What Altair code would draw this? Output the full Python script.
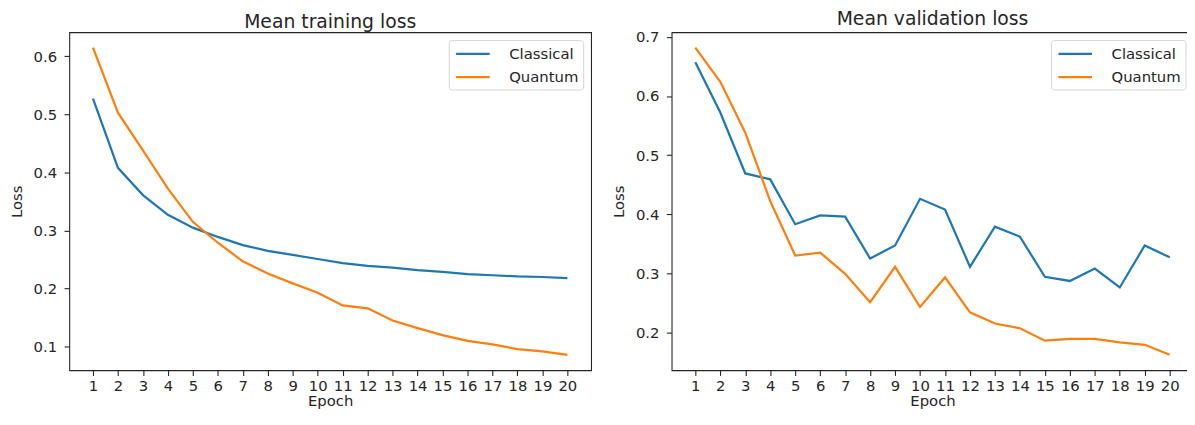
import altair as alt
import pandas as pd

epochs = list(range(1, 21))
series_names = ["Classical", "Quantum"]
series_colors = ["#1f77b4", "#ff7f0e"]

train_classical = [0.527, 0.408, 0.361, 0.327, 0.305, 0.289, 0.275, 0.265, 0.258, 0.251,
                   0.244, 0.239, 0.236, 0.232, 0.229, 0.225, 0.223, 0.221, 0.220, 0.218]
train_quantum = [0.615, 0.503, 0.438, 0.372, 0.315, 0.279, 0.247, 0.226, 0.209, 0.193,
                 0.171, 0.166, 0.145, 0.132, 0.120, 0.110, 0.104, 0.096, 0.092, 0.086]

val_classical = [0.657, 0.572, 0.469, 0.459, 0.383, 0.398, 0.396, 0.325, 0.347, 0.426,
                 0.408, 0.311, 0.379, 0.362, 0.294, 0.287, 0.308, 0.276, 0.347, 0.327]
val_quantum = [0.682, 0.624, 0.538, 0.422, 0.330, 0.335, 0.299, 0.251, 0.311, 0.243,
               0.293, 0.234, 0.215, 0.207, 0.186, 0.189, 0.189, 0.183, 0.179, 0.162]

train_ticks = [0.1, 0.2, 0.3, 0.4, 0.5, 0.6]
val_ticks = [0.2, 0.3, 0.4, 0.5, 0.6, 0.7]

FONT = "DejaVu Sans"
INK = "#262626"


def make_df(classical, quantum):
    return pd.DataFrame({
        "Epoch": epochs + epochs,
        "Loss": classical + quantum,
        "Model": ["Classical"] * len(epochs) + ["Quantum"] * len(epochs),
    })


def panel(df, title, ticks):
    lo, hi = min(df["Loss"]), max(df["Loss"])
    m = (hi - lo) * 0.05
    return alt.Chart(df).mark_line(strokeWidth=2.25).encode(
        x=alt.X("Epoch:Q",
                scale=alt.Scale(domain=[0.05, 20.95], nice=False, zero=False),
                axis=alt.Axis(values=epochs, format="d", title="Epoch", labelFlush=False)),
        y=alt.Y("Loss:Q",
                scale=alt.Scale(domain=[lo - m, hi + m], nice=False, zero=False),
                axis=alt.Axis(values=ticks, format=".1f", title="Loss")),
        color=alt.Color("Model:N",
                        scale=alt.Scale(domain=series_names, range=series_colors),
                        legend=alt.Legend(title=None, orient="top-right")),
    ).properties(width=528, height=342, title=title)


left = panel(make_df(train_classical, train_quantum), "Mean training loss", train_ticks)
right = panel(make_df(val_classical, val_quantum), "Mean validation loss", val_ticks)

chart = alt.hconcat(left, right, spacing=18.5).resolve_scale(color="independent").properties(
    padding={"left": 0, "top": -0.9, "right": -8, "bottom": 0}
).configure_view(
    stroke=INK, strokeWidth=1.1
).configure_axis(
    grid=False, domain=False, tickColor=INK, tickSize=5.3, tickWidth=1.1,
    labelFont=FONT, labelFontSize=15, labelColor=INK,
    titleFont=FONT, titleFontSize=15, titleFontWeight="normal", titleColor=INK,
).configure_axisX(labelPadding=3.5, titlePadding=0).configure_axisY(
    labelPadding=7.5, titlePadding=8.85
).configure_title(
    font=FONT, fontSize=19, fontWeight="normal", color=INK, offset=0.7
).configure_legend(
    labelFont=FONT, labelFontSize=15, labelColor=INK, labelOffset=26.75,
    symbolType="M-2,0L2,0", symbolSize=289, symbolStrokeWidth=2.25, symbolOffset=10.4,
    fillColor="white", strokeColor="#d4d4d4", cornerRadius=3,
    padding=4, offset=8, rowPadding=5.5,
)

chart.save("out.html", embed_options={"renderer": "svg", "actions": False})
